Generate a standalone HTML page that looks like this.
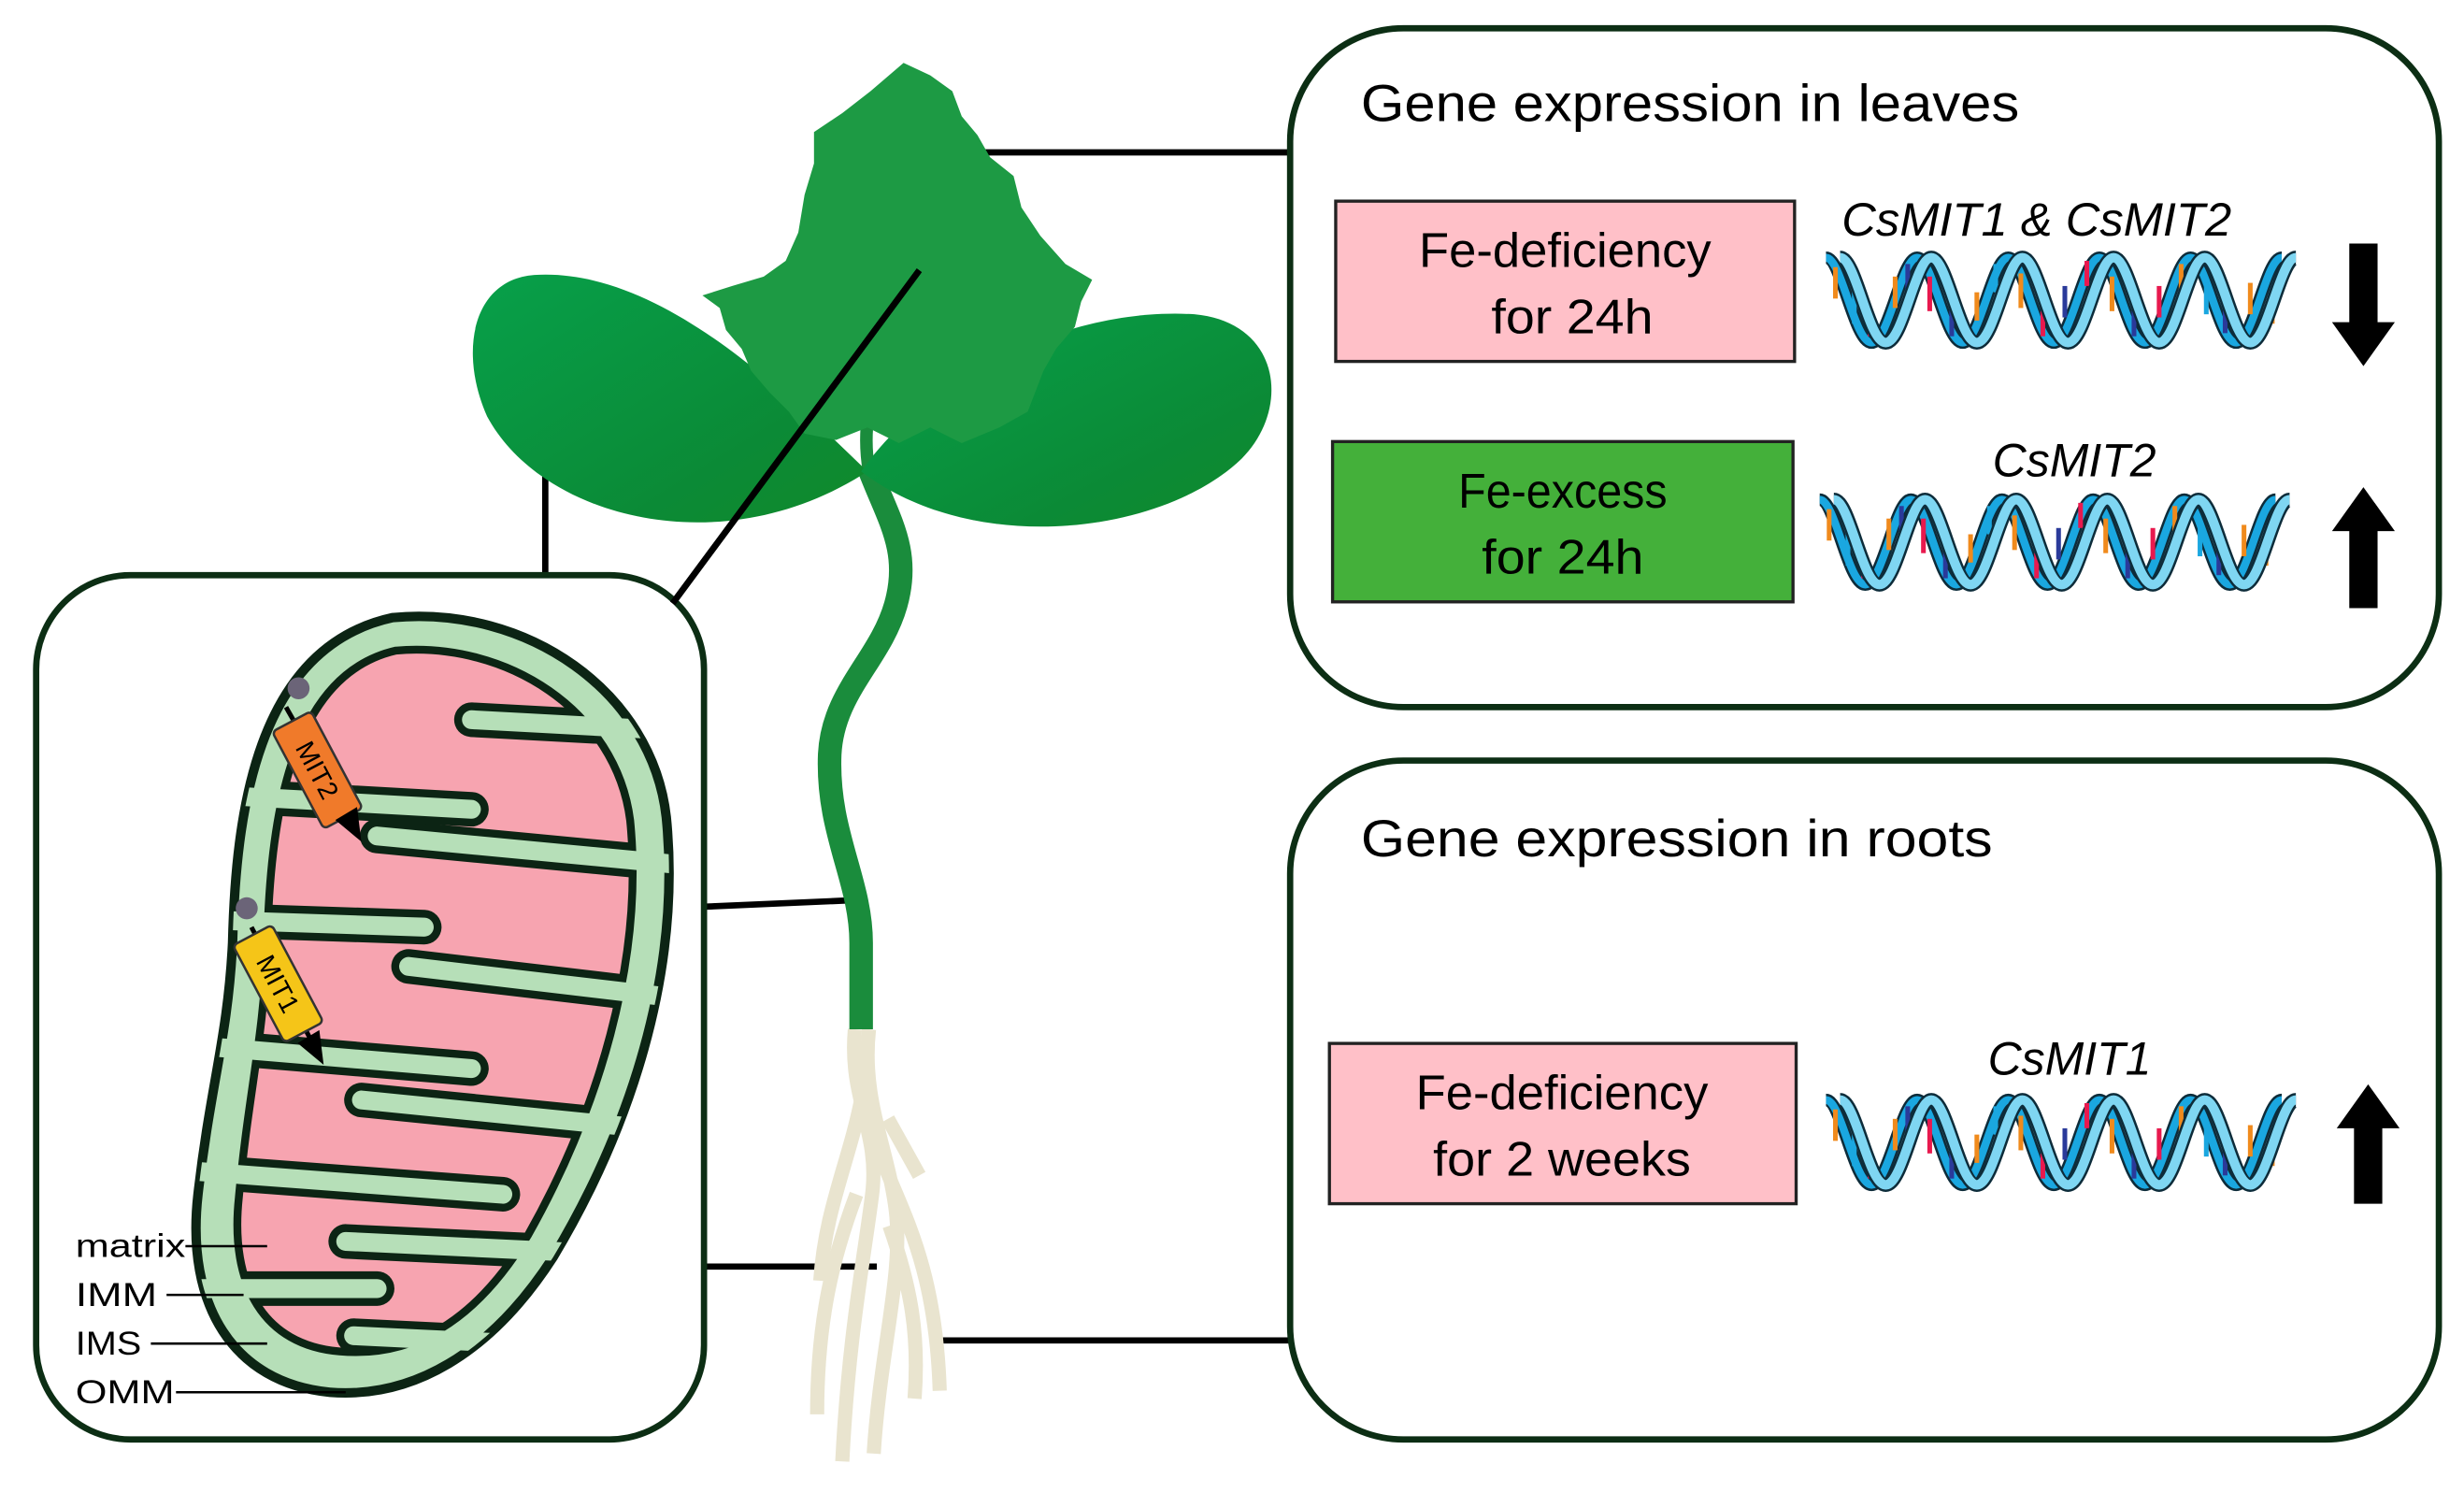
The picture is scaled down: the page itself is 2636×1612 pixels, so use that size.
<!DOCTYPE html>
<html><head><meta charset="utf-8"><style>
html,body{margin:0;padding:0;background:#fff}
svg{display:block}
text{font-family:"Liberation Sans",sans-serif}
</style></head><body>
<svg width="2636" height="1612" viewBox="0 0 1568 959" preserveAspectRatio="none" xmlns="http://www.w3.org/2000/svg">
<defs>
<linearGradient id="cot" x1="0" y1="0" x2="1" y2="1"><stop offset="0" stop-color="#07a04a"/><stop offset="0.7" stop-color="#0b8a36"/><stop offset="1" stop-color="#118a2a"/></linearGradient>
<path id="mitoOuter" d="M250,393 C335,385 415,440 424,520 C434,620 400,720 352,800 C312,862 262,890 210,886 C148,880 118,830 126,760 C134,690 145,660 148,600 C150,520 162,412 250,393 Z"/>
<path id="mitoInner" d="M252,414 C322,408 392,452 401,522 C410,612 380,708 336,786 C302,842 262,864 216,860 C168,856 146,818 152,762 C158,696 168,660 170,600 C172,528 182,430 252,414 Z"/>
<clipPath id="cIn"><use href="#mitoInner"/></clipPath>
<clipPath id="cOut"><use href="#mitoOuter"/></clipPath>
<g id="strandA">
 <path d="M0,8 C10,8 18,62 29,62 S48,8 58,8 S76,62 87,62 S106,8 116,8 S134,62 145,62 S164,8 174,8 S192,62 203,62 S222,8 232,8 S250,62 261,62 S280,8 290,8" fill="none"/>
</g>
<g id="helix">
 <use href="#strandA" stroke="#0d2c3a" stroke-width="8"/>
 <use href="#strandA" stroke="#1aa7e0" stroke-width="5"/>
 <g stroke-width="3">
  <line x1="6" y1="14" x2="6" y2="34" stroke="#f08a1c"/><line x1="18" y1="30" x2="18" y2="50" stroke="#1aa7e0"/><line x1="28" y1="40" x2="28" y2="58" stroke="#e8194e"/><line x1="44" y1="20" x2="44" y2="40" stroke="#f08a1c"/><line x1="52" y1="12" x2="52" y2="30" stroke="#2a3a9a"/>
  <line x1="66" y1="20" x2="66" y2="42" stroke="#e8194e"/><line x1="80" y1="40" x2="80" y2="58" stroke="#2a3a9a"/><line x1="96" y1="30" x2="96" y2="48" stroke="#f08a1c"/><line x1="108" y1="12" x2="108" y2="30" stroke="#1aa7e0"/>
  <line x1="124" y1="18" x2="124" y2="40" stroke="#f08a1c"/><line x1="138" y1="42" x2="138" y2="58" stroke="#e8194e"/><line x1="152" y1="26" x2="152" y2="46" stroke="#2a3a9a"/><line x1="166" y1="10" x2="166" y2="26" stroke="#e8194e"/>
  <line x1="182" y1="20" x2="182" y2="42" stroke="#f08a1c"/><line x1="196" y1="42" x2="196" y2="58" stroke="#2a3a9a"/><line x1="212" y1="26" x2="212" y2="46" stroke="#e8194e"/><line x1="226" y1="12" x2="226" y2="30" stroke="#f08a1c"/><line x1="242" y1="24" x2="242" y2="44" stroke="#1aa7e0"/><line x1="254" y1="38" x2="254" y2="56" stroke="#2a3a9a"/><line x1="270" y1="24" x2="270" y2="44" stroke="#f08a1c"/><line x1="284" y1="30" x2="284" y2="50" stroke="#f08a1c"/>
 </g>
 <use href="#strandA" transform="translate(9,0)" stroke="#0d2c3a" stroke-width="9"/>
 <use href="#strandA" transform="translate(9,0)" stroke="#7fd6f2" stroke-width="6"/>
</g>
</defs>

<!-- connector lines -->
<g stroke="#000" stroke-width="4" fill="none">
<line x1="600" y1="97" x2="822" y2="97"/>
<line x1="600" y1="853" x2="822" y2="853"/>
<line x1="347" y1="263" x2="347" y2="366"/>
<line x1="448" y1="577" x2="540" y2="573"/>
<line x1="448" y1="806" x2="558" y2="806"/>
</g>

<!-- roots -->
<g stroke="#e9e4cf" stroke-width="9" fill="none" stroke-linecap="butt">
<path d="M544,655 C540,700 560,720 555,760 C550,800 540,850 536,930"/>
<path d="M553,655 C548,700 565,730 570,770 C575,810 560,860 556,925"/>
<path d="M548,700 C540,740 525,770 522,815"/>
<path d="M556,720 C565,760 595,790 598,885"/>
<path d="M565,712 L585,748"/>
<path d="M545,760 C530,800 520,840 520,900"/>
<path d="M566,780 C580,820 585,850 582,890"/>
</g>
<!-- stem -->
<path d="M553,298 C565,330 580,350 570,385 C560,420 530,440 528,480 C526,530 548,560 548,600 L548,655" fill="none" stroke="#1a8c3c" stroke-width="15"/>
<path d="M553,300 C548,270 555,250 562,225" fill="none" stroke="#1a8c3c" stroke-width="8"/>
<!-- cotyledons -->
<path d="M552,300 C500,250 420,170 340,175 C300,178 292,225 310,265 C345,330 460,360 552,300 Z" fill="url(#cot)"/>
<path d="M548,300 C590,240 680,195 760,200 C815,205 822,260 790,292 C740,340 620,355 548,300 Z" fill="url(#cot)"/>
<!-- top leaf -->
<path d="M575,40 L592,48 L606,58 L612,74 L622,86 L630,100 L645,112 L650,132 L662,150 L678,168 L695,178 L688,192 L684,208 L672,222 L664,236 L654,262 L636,272 L612,282 L592,272 L572,282 L552,272 L532,280 L512,276 L502,262 L490,250 L478,236 L472,222 L462,210 L458,196 L447,188 L466,182 L486,176 L500,166 L508,148 L512,124 L518,104 L518,84 L536,72 L554,58 Z" fill="#1d9a44"/>
<line x1="585" y1="172" x2="428" y2="384" stroke="#000" stroke-width="4"/>

<!-- right boxes -->
<rect x="821" y="18" width="731" height="432" rx="72" fill="none" stroke="#0c2e14" stroke-width="4"/>
<rect x="821" y="484" width="731" height="432" rx="72" fill="none" stroke="#0c2e14" stroke-width="4"/>
<text x="866" y="77" font-size="33" textLength="419" lengthAdjust="spacingAndGlyphs">Gene expression in leaves</text>
<text x="866" y="545" font-size="33" textLength="402" lengthAdjust="spacingAndGlyphs">Gene expression in roots</text>

<rect x="850" y="128" width="292" height="102" fill="#ffc0c8" stroke="#222" stroke-width="2"/>
<text x="903" y="170" font-size="31" textLength="186" lengthAdjust="spacingAndGlyphs">Fe-deficiency</text>
<text x="949" y="212" font-size="31" textLength="103" lengthAdjust="spacingAndGlyphs">for 24h</text>
<rect x="848" y="281" width="293" height="102" fill="#44b03a" stroke="#222" stroke-width="2"/>
<text x="928" y="323" font-size="31" textLength="133" lengthAdjust="spacingAndGlyphs">Fe-excess</text>
<text x="943" y="365" font-size="31" textLength="103" lengthAdjust="spacingAndGlyphs">for 24h</text>
<rect x="846" y="664" width="297" height="102" fill="#ffc0c8" stroke="#222" stroke-width="2"/>
<text x="901" y="706" font-size="31" textLength="186" lengthAdjust="spacingAndGlyphs">Fe-deficiency</text>
<text x="912" y="748" font-size="31" textLength="164" lengthAdjust="spacingAndGlyphs">for 2 weeks</text>

<text x="1172" y="150" font-size="30" font-style="italic" textLength="248" lengthAdjust="spacingAndGlyphs">CsMIT1 &amp; CsMIT2</text>
<text x="1268" y="303" font-size="30" font-style="italic" textLength="104" lengthAdjust="spacingAndGlyphs">CsMIT2</text>
<text x="1265" y="684" font-size="30" font-style="italic" textLength="104" lengthAdjust="spacingAndGlyphs">CsMIT1</text>

<use href="#helix" transform="translate(1162,156)"/>
<use href="#helix" transform="translate(1158,310)"/>
<use href="#helix" transform="translate(1162,692)"/>

<!-- arrows -->
<path d="M1495,155 L1513,155 L1513,205 L1524,205 L1504,233 L1484,205 L1495,205 Z" fill="#000"/>
<path d="M1495,387 L1513,387 L1513,338 L1524,338 L1504,310 L1484,338 L1495,338 Z" fill="#000"/>
<path d="M1498,766 L1516,766 L1516,718 L1527,718 L1507,690 L1487,718 L1498,718 Z" fill="#000"/>

<!-- left box -->
<rect x="23" y="366" width="425" height="550" rx="60" fill="#fff" stroke="#0c2e14" stroke-width="4"/>
<line x1="585" y1="172" x2="428" y2="384" stroke="#000" stroke-width="4"/>
<!-- mitochondrion -->
<use href="#mitoOuter" fill="#b6dfb8" stroke="#0c2414" stroke-width="6"/>
<use href="#mitoInner" fill="#f7a4b0" stroke="#0c2414" stroke-width="5"/>
<g stroke-linecap="round" fill="none">
 <g stroke="#0c2414" stroke-width="22" clip-path="url(#cIn)">
  <path d="M430,465 L300,458"/><path d="M430,550 L240,532"/><path d="M430,635 L260,615"/><path d="M430,720 L230,700"/><path d="M430,800 L220,790"/><path d="M430,860 L225,850"/>
  <path d="M120,505 L300,515"/><path d="M120,585 L270,590"/><path d="M120,665 L300,680"/><path d="M120,745 L320,760"/><path d="M120,820 L240,820"/>
 </g>
 <g stroke="#b6dfb8" stroke-width="12" clip-path="url(#cOut)">
  <path d="M430,465 L300,458"/><path d="M430,550 L240,532"/><path d="M430,635 L260,615"/><path d="M430,720 L230,700"/><path d="M430,800 L220,790"/><path d="M430,860 L225,850"/>
  <path d="M120,505 L300,515"/><path d="M120,585 L270,590"/><path d="M120,665 L300,680"/><path d="M120,745 L320,760"/><path d="M120,820 L240,820"/>
 </g>
</g>
<!-- transporters -->
<circle cx="190" cy="438" r="7" fill="#6b6478"/>
<circle cx="157" cy="578" r="7" fill="#6b6478"/>
<g stroke="#000" stroke-width="3"><line x1="182" y1="450" x2="222" y2="520"/><line x1="160" y1="590" x2="198" y2="662"/></g>
<g transform="translate(202,490) rotate(-28)">
 <rect x="-14" y="-35" width="28" height="70" rx="3" fill="#f07a2a" stroke="#333" stroke-width="1.5"/>
 <text x="0" y="0" font-size="17" transform="rotate(90)" text-anchor="middle" dy="6">MIT2</text>
</g>
<g transform="translate(177,626) rotate(-28)">
 <rect x="-14" y="-35" width="28" height="70" rx="3" fill="#f5c518" stroke="#333" stroke-width="1.5"/>
 <text x="0" y="0" font-size="17" transform="rotate(90)" text-anchor="middle" dy="6">MIT1</text>
</g>
<path d="M216,522 L228,532 L226,516 Z M192,664 L204,674 L202,658 Z" fill="#000" stroke="#000" stroke-width="3"/>
<!-- labels -->
<g font-size="21">
<text x="48" y="800" textLength="70" lengthAdjust="spacingAndGlyphs">matrix</text><text x="48" y="831" textLength="52" lengthAdjust="spacingAndGlyphs">IMM</text><text x="48" y="862" textLength="42" lengthAdjust="spacingAndGlyphs">IMS</text><text x="48" y="893" textLength="63" lengthAdjust="spacingAndGlyphs">OMM</text>
</g>
<g stroke="#000" stroke-width="1.5">
<line x1="118" y1="793" x2="170" y2="793"/><line x1="106" y1="824" x2="155" y2="824"/><line x1="96" y1="855" x2="170" y2="855"/><line x1="112" y1="886" x2="220" y2="886"/>
</g>
</svg>
</body></html>
